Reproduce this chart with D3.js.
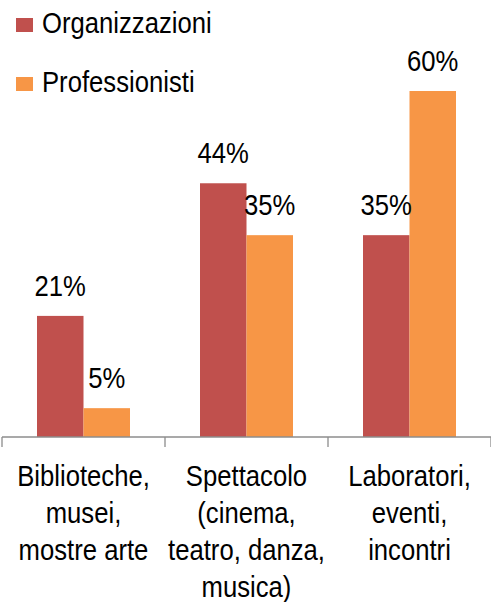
<!DOCTYPE html>
<html>
<head>
<meta charset="utf-8">
<script src="https://cdn.jsdelivr.net/npm/d3@7"></script>
<style>
  body { margin: 0; background: #fff; }
  svg text { font-family: "Liberation Sans", Arial, sans-serif; fill: #000; font-size: 29px; }
</style>
</head>
<body>
<div id="chart"></div>
<script>
// data
const categories = ["Biblioteche, musei, mostre arte", "Spettacolo (cinema, teatro, danza, musica)", "Laboratori, eventi, incontri"];
const categoryLines = [
    ["Biblioteche,", "musei,", "mostre arte"],
    ["Spettacolo", "(cinema,", "teatro, danza,", "musica)"],
    ["Laboratori,", "eventi,", "incontri"]
];
const seriesNames = ["Organizzazioni", "Professionisti"];
const organizzazioni = [21, 44, 35];
const professionisti = [5, 35, 60];
const colors = ["#C0504D", "#F79646"];

const width = 491, height = 602;
const narrow = 0.885; // squeeze text horizontally, no narrow font installed

const svg = d3.select("#chart").append("svg")
    .attr("width", width)
    .attr("height", height);

// helper: text squeezed around its anchor point
function addText(parent, x, y, str, anchor) {
    return parent.append("g")
        .attr("transform", "translate(" + x + "," + y + ") scale(" + narrow + ",1)")
        .append("text")
        .attr("text-anchor", anchor || "middle")
        .text(str);
}

// scales
const x0 = d3.scaleBand()
    .domain(categories)
    .range([2, 491]);

const x1 = d3.scaleBand()
    .domain(seriesNames)
    .range([35, x0.bandwidth() - 35]);

const y = d3.scaleLinear()
    .domain([0, 60])
    .range([437, 91]);

const seriesValues = [organizzazioni, professionisti];

const rows = [];
categories.forEach((c, i) => {
    seriesNames.forEach((s, j) => {
        rows.push({ cat: c, series: s, value: seriesValues[j][i], color: colors[j] });
    });
});

// bars
svg.selectAll(".bar")
    .data(rows)
    .enter()
    .append("rect")
    .attr("class", "bar")
    .attr("x", d => x0(d.cat) + x1(d.series))
    .attr("y", d => y(d.value))
    .attr("width", x1.bandwidth())
    .attr("height", d => y(0) - y(d.value))
    .attr("fill", d => d.color);

// value labels
rows.forEach(d => {
    addText(svg, x0(d.cat) + x1(d.series) + x1.bandwidth() / 2, y(d.value) - 20, d.value + "%");
});

// x axis
const axis = svg.append("g")
    .attr("transform", "translate(0," + y(0) + ")");
axis.append("line")
    .attr("x1", 2).attr("x2", 491)
    .attr("stroke", "#8c8c8c").attr("stroke-width", 1.3);
const tickPos = categories.map(c => x0(c)).concat([x0.range()[1]]);
axis.selectAll(".tick")
    .data(tickPos)
    .enter()
    .append("line")
    .attr("x1", d => d)
    .attr("x2", d => d)
    .attr("y1", 0).attr("y2", 10)
    .attr("stroke", "#8c8c8c").attr("stroke-width", 1.3);

// category labels
categoryLines.forEach((lines, i) => {
    lines.forEach((l, k) => {
        addText(svg, x0(categories[i]) + x0.bandwidth() / 2, 486 + k * 37, l);
    });
});

// legend
seriesNames.forEach((s, i) => {
    const g = svg.append("g")
        .attr("transform", "translate(16," + (18 + i * 59) + ")");
    g.append("rect")
        .attr("width", 17).attr("height", 14)
        .attr("fill", colors[i]);
    addText(g, 26, 15, s, "start");
});
</script>
</body>
</html>
